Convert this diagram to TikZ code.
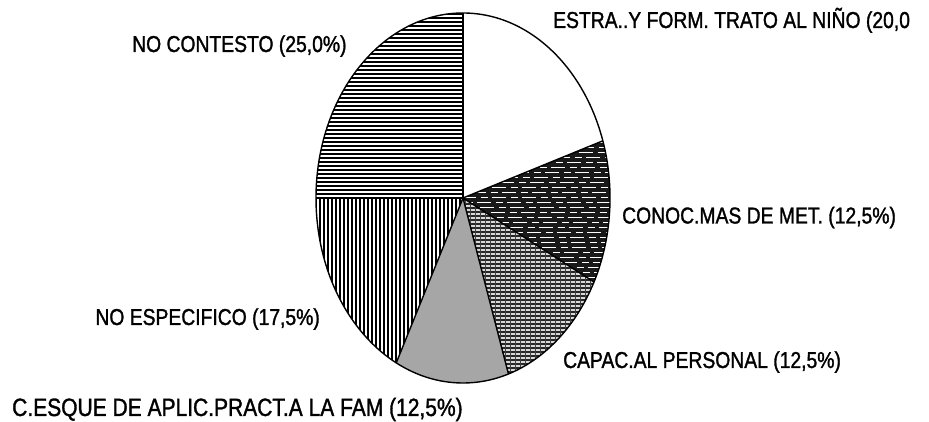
\documentclass[tikz,border=0pt]{standalone}
\usepackage{fontspec}
\setmainfont{Liberation Sans}[FakeStretch=0.84, FakeBold=1.3]
\begin{document}
\begin{tikzpicture}[x=1pt,y=1pt,
  lbl/.style={inner sep=0pt, font=\fontsize{23}{26}\selectfont},
  outline/.style={draw=black, line width=1.4pt, line join=round},
  hatch/.style={line width=1.25pt, black}]
\pgfmathsetseed{7}
\useasboundingbox (0,0) rectangle (929,422);
\fill[white] (0,0) rectangle (929,422);
\coordinate (c) at (463,224);

% NO CONTESTO: horizontal lines
\begin{scope}
\clip (c) -- ++(90:147pt and 185pt) arc[start angle=90,end angle=180,x radius=147pt,y radius=185pt] -- cycle;
\foreach \y in {224,228,...,412} \draw[hatch] (300,\y) -- (470,\y);
\end{scope}

% NO ESPECIFICO: vertical lines
\begin{scope}
\clip (c) -- ++(180:147pt and 185pt) arc[start angle=180,end angle=243,x radius=147pt,y radius=185pt] -- cycle;
\foreach \x in {312,316,...,470} \draw[hatch] (\x,30) -- (\x,226);
\end{scope}

% C.ESQUE: fine dotted grey
\fill[black!35] (c) -- ++(243:147pt and 185pt) arc[start angle=243,end angle=288,x radius=147pt,y radius=185pt] -- cycle;

% CAPAC: grid
\begin{scope}
\clip (c) -- ++(288:147pt and 185pt) arc[start angle=288,end angle=333,x radius=147pt,y radius=185pt] -- cycle;
\fill[black!15] (440,30) rectangle (620,226);
\foreach \y in {30,34,...,226} \draw[line width=1.1pt, black!85] (440,\y) -- (620,\y);
\foreach \x in {440,445,...,620} \draw[line width=1pt, black!75] (\x,30) -- (\x,226);
\end{scope}

% CONOC: dark
\begin{scope}
\clip (c) -- ++(-27:147pt and 185pt) arc[start angle=-27,end angle=18,x radius=147pt,y radius=185pt] -- cycle;
\fill[black!90] (455,100) rectangle (620,290);
\foreach \y [evaluate=\y as \ph using {30*rnd}] in {100,105,...,290}
  \draw[white, line width=0.5pt, dash pattern=on 14pt off 5pt on 7pt off 4pt, dash phase=\ph pt] (455,\y) -- (620,\y);
\end{scope}

% outline
\draw[outline] (c) ellipse [x radius=147pt, y radius=185pt];
\foreach \a in {90,18,-27,-72,-117,180}
  \draw[outline] (c) -- ++(\a:147pt and 185pt);

% labels
\node[lbl, anchor=base west] (estra) at (553,394) {ESTRA..Y FORM. TRATO AL NIÑO (20,0};
\node[lbl, anchor=base west] (nocont) at (132,370) {NO CONTESTO (25,0\%)};
\node[lbl, anchor=base west] (conoc) at (622,198.5) {CONOC.MAS DE MET. (12,5\%)};
\node[lbl, anchor=base east] (noesp) at (320,97) {NO ESPECIFICO (17,5\%)};
\node[lbl, anchor=base west] (capac) at (563,54) {CAPAC.AL PERSONAL (12,5\%)};
\node[lbl, anchor=base west, font=\fontsize{25}{28}\selectfont] (esque) at (12,6) {C.ESQUE DE APLIC.PRACT.A LA FAM (12,5\%)};
\end{tikzpicture}
\end{document}
